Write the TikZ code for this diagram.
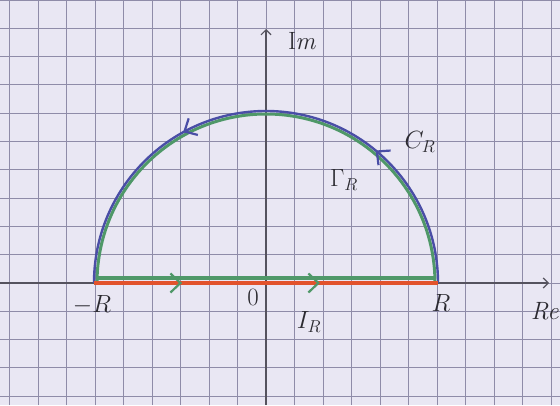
\documentclass[tikz,border=0pt]{standalone}
\usetikzlibrary{arrows.meta,decorations.markings}
\definecolor{paper}{HTML}{E9E7F3}
\definecolor{gridc}{HTML}{8F8CA8}
\definecolor{axisc}{HTML}{55535E}
\definecolor{arcblue}{HTML}{4A4EA6}
\definecolor{pathgreen}{HTML}{4F9868}
\definecolor{segred}{HTML}{E2532C}
\definecolor{inkc}{HTML}{2B2A30}
\tikzset{
  gridline/.style={gridc, line width=0.9pt},
  axisline/.style={axisc, line width=1.3pt, -{Straight Barb[length=5pt,width=10pt,line width=1.2pt]}},
  lbl/.style={inkc, font=\fontsize{25}{28}\selectfont, inner sep=0pt},
  arrowmark/.style={postaction={decorate,decoration={markings,
     mark=at position #1 with {\arrow{Straight Barb[length=10pt,width=19pt,line width=2.2pt]}}}}}
}
\begin{document}
\begin{tikzpicture}[x=1pt,y=1pt]
\useasboundingbox (0,0) rectangle (560,405);
\fill[paper] (0,0) rectangle (560,405);
% grid
\foreach \i in {-9,...,10} \draw[gridline] (266+28.5*\i,0) -- (266+28.5*\i,405);
\foreach \j in {-4,...,10} \draw[gridline] (0,122+28.3*\j) -- (560,122+28.3*\j);
% coordinates
\coordinate (O) at (266,122);
\coordinate (A) at (94,122);
\coordinate (B) at (438,122);
\coordinate (xs) at (0,122);
\coordinate (xe) at (549,122);
\coordinate (ys) at (266,0);
\coordinate (ye) at (266,376);
\coordinate (gA) at (97,127);
\coordinate (gB) at (435,127);
% axes
\draw[axisline] (xs) -- (xe);
\draw[axisline] (ys) -- (ye);
% green contour (inner)
\draw[pathgreen, line width=3.5pt] (gA) -- (gB);
\draw[pathgreen, line width=3pt] ([xshift=169pt]O) arc[start angle=0,end angle=180,radius=169];
% blue arc
\draw[arcblue, line width=2.4pt, arrowmark=0.28, arrowmark=0.66] (B) arc[start angle=0,end angle=180,radius=172];
% red segment
\draw[segred, line width=3.5pt] (A) -- (B);
\path[pathgreen, arrowmark=0.256, arrowmark=0.657] (A) -- (B);
% labels
\node[lbl] (im) at (302,364) {I\kern-1pt\textit{m}};
\node[lbl, anchor=east] (re) at (559,94) {\textit{Re}};
\node[lbl] (mR) at (92,100) {$-R$};
\node[lbl] (zero) at (253,108) {$0$};
\node[lbl] (pR) at (441,102) {$R$};
\node[lbl] (CR) at (420,263) {$C_R$};
\node[lbl] (GR) at (344,225) {$\Gamma_R$};
\node[lbl] (IR) at (309,83) {$I_R$};
\end{tikzpicture}
\end{document}
